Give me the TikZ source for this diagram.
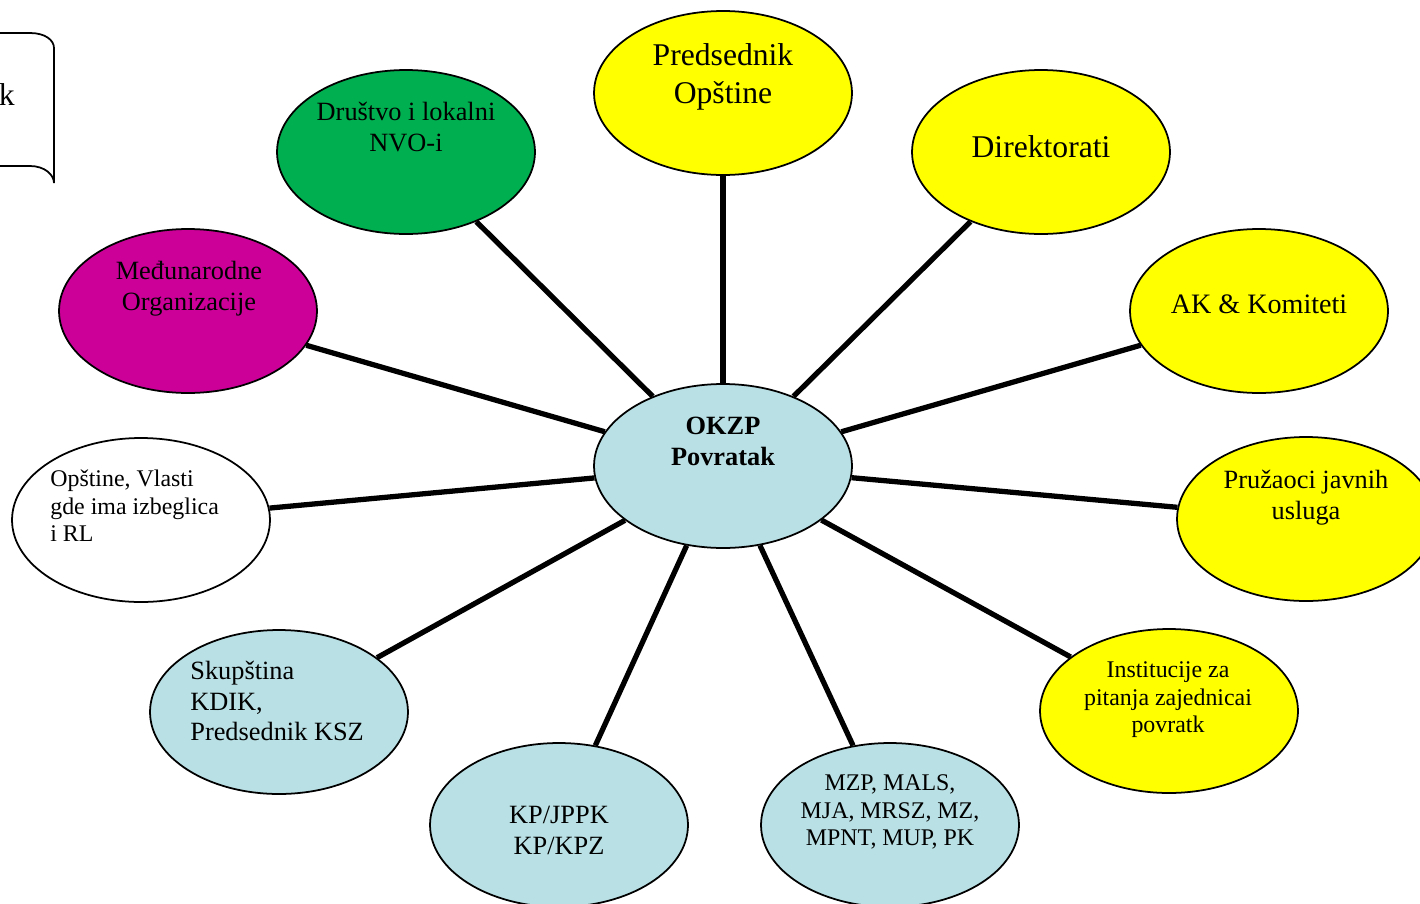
\documentclass[tikz,border=0pt]{standalone}
\usepackage{fontspec}
\setmainfont{Liberation Serif}
\usepackage{xcolor}
\usetikzlibrary{shapes.geometric, positioning}

\definecolor{ylw}{RGB}{255,255,0}
\definecolor{aqua}{RGB}{185,224,228}
\definecolor{grn}{RGB}{0,176,80}
\definecolor{mag}{RGB}{204,0,153}

\begin{document}
\begin{tikzpicture}[
    x=0.02cm, y=-0.02cm,
    ell/.style={ellipse, draw, line width=1pt, minimum width=5.16cm, minimum height=3.28cm, inner sep=0pt},
    bigtxt/.style={font=\fontsize{18}{21.6}\selectfont, align=center, inner sep=0pt},
    midtxt/.style={font=\fontsize{15}{17.6}\selectfont, align=center, inner sep=0pt},
    smltxt/.style={font=\fontsize{13.6}{15.6}\selectfont, align=center, inner sep=0pt},
    link/.style={line width=3pt}
]
    \useasboundingbox (0,0) rectangle (1420,903);
    \clip (0,0) rectangle (1420,903);

    % centre
    \node[ell, fill=aqua] (okzp) at (723,466) {};

    % outer ring
    \node[ell, fill=ylw] (pred) at (723,93) {};
    \node[ell, fill=ylw] (dir) at (1041,152) {};
    \node[ell, fill=ylw] (ak) at (1259,311) {};
    \node[ell, fill=ylw] (pruz) at (1306,519) {};
    \node[ell, fill=ylw] (inst) at (1169,711) {};
    \node[ell, fill=aqua] (mzp) at (890,825) {};
    \node[ell, fill=aqua] (kp) at (559,825) {};
    \node[ell, fill=aqua] (skup) at (279,712) {};
    \node[ell, fill=white] (opst) at (141,520) {};
    \node[ell, fill=mag] (medj) at (188,311) {};
    \node[ell, fill=grn] (drus) at (406,152) {};

    \foreach \n in {pred, dir, ak, pruz, inst, mzp, kp, skup, opst, medj, drus}
        \draw[link] (okzp) -- (\n);

    % texts
    \node[midtxt, font=\fontsize{15}{17.6}\selectfont\bfseries] (okzp-t) at (723,441) {OKZP\\Povratak};
    \node[bigtxt] (pred-t) at (723,77) {Predsednik\\Opštine};
    \node[bigtxt] (dir-t) at (1041,147) {Direktorati};
    \node[bigtxt, font=\fontsize{16}{19}\selectfont] (ak-t) at (1259,304) {AK \& Komiteti};
    \node[midtxt] (pruz-t) at (1306,498) {Pružaoci javnih\\usluga};
    \node[smltxt] (inst-t) at (1168,700) {Institucije za\\pitanja zajednicai\\povratk};
    \node[smltxt] (mzp-t) at (890,812) {MZP, MALS,\\MJA, MRSZ, MZ,\\MPNT, MUP, PK};
    \node[midtxt] (kp-t) at (559,830) {KP/JPPK\\KP/KPZ};
    \node[midtxt, align=left, anchor=west] (skup-t) at (190,701) {Skupština\\KDIK,\\Predsednik KSZ};
    \node[smltxt, align=left, anchor=west] (opst-t) at (50,506) {Opštine, Vlasti\\gde ima izbeglica\\i RL};
    \node[midtxt] (medj-t) at (189,289) {Međunarodne\\Organizacije};
    \node[midtxt] (drus-t) at (406,127) {Društvo i lokalni\\NVO-i};

    % cut-off box, top left
    \draw[line width=1pt] (-10,33) -- (30,33) .. controls (45,33) and (54,40) .. (54,48)
        -- (54,183) .. controls (54,175) and (45,166) .. (30,166) -- (-10,166);
    \node[bigtxt, anchor=base east] (doc-t) at (15,105) {k};
\end{tikzpicture}
\end{document}
